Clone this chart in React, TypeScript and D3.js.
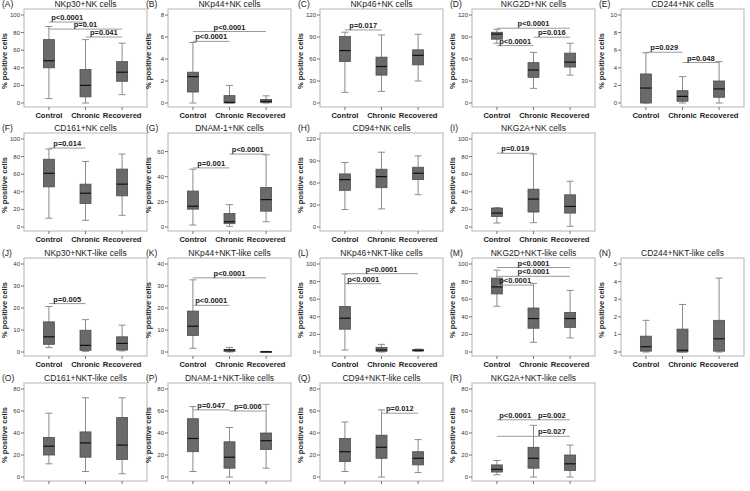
import React from 'react';
import * as d3 from 'd3';

const groups = ['Control', 'Chronic', 'Recovered'];

// box stats per group: [whisker low, q1, median, q3, whisker high]
const nkp30NK = [[5, 40, 48, 72, 87], [0, 7, 20, 38, 72], [9.5, 24.7, 35, 47, 68]];
const nkp44NK = [[0, 1.0, 2.4, 2.8, 5.5], [0, 0, 0.06, 0.67, 1.6], [0, 0.03, 0.15, 0.33, 0.65]];
const nkp46NK = [[14.5, 56.6, 71.5, 90.6, 96.5], [15.8, 38, 49.8, 62.5, 92.8], [30, 52, 65, 72.5, 93.7]];
const nkg2dNK = [[81.5, 87, 94, 96.5, 100.5], [20, 35, 45, 55, 69], [38, 49, 55.7, 68, 81.5]];
const cd244NK = [[0, 0, 1.7, 3.3, 5.7], [0, 0.2, 0.75, 1.4, 3.0], [0, 0.65, 1.6, 2.5, 4.7]];
const cd161NK = [[10, 45.6, 61, 77, 88.6], [7.6, 26.6, 38.4, 48.7, 74.5], [13.3, 35.4, 48.7, 65.8, 82.9]];
const dnam1NK = [[1.6, 14.2, 16.5, 28.6, 46], [0.5, 2.6, 4.2, 10.7, 17.8], [4.2, 12.6, 21.8, 31.5, 57.4]];
const cd94NK = [[23.8, 50, 64.6, 72.4, 88], [24.7, 53.6, 68.7, 78.8, 102], [44, 64.6, 73.3, 81.5, 97]];
const nkg2aNK = [[4.5, 12, 15.8, 21.5, 21.9], [4.9, 17, 31.7, 43, 83], [0.8, 15.8, 23.4, 36.6, 52]];
const nkp30NKT = [[2, 3.5, 6.9, 13.7, 20.7], [0.3, 0.75, 3, 9.9, 14.7], [0.5, 0.9, 3.9, 6.9, 12.2]];
const nkp44NKT = [[1.7, 7.5, 11.7, 18.6, 32.8], [0, 0.3, 0.9, 1.2, 2.1], [0, 0.05, 0.1, 0.2, 0.3]];
const nkp46NKT = [[2.3, 25.9, 38.4, 51.7, 88.6], [0, 0.8, 2.3, 5.3, 8.7], [0.8, 1.1, 1.9, 2.7, 3.4]];
const nkg2dNKT = [[52, 66, 74, 84, 93], [11, 27, 38, 50, 78], [16, 28, 38, 45, 70]];
const cd244NKT = [[0, 0.05, 0.3, 0.9, 1.8], [0, 0, 0.1, 1.3, 2.7], [0, 0.05, 0.75, 1.8, 4.2]];
const cd161NKT = [[12, 20, 28, 36, 58], [5, 18, 31, 41, 72], [3, 16, 29, 54, 72]];
const dnam1NKT = [[5, 23, 35, 53, 64], [0, 8, 18, 32, 45], [8, 25, 33, 40, 66]];
const cd94NKT = [[5, 14, 23, 35, 50], [0, 17, 27, 38, 61], [4, 11, 17, 23, 34]];
const nkg2aNKT = [[2, 4.5, 7, 11, 15], [0, 8, 17, 27, 47], [0, 6, 12, 20, 29]];

// significance bars: [from, to, level, label, text centre from, text centre to]
const sigA = [['Control', 'Chronic', 92, 'p<0.0001'], ['Control', 'Recovered', 84, 'p=0.01'], ['Chronic', 'Recovered', 75, 'p=0.041']];
const sigB = [['Control', 'Recovered', 6.5, 'p<0.0001'], ['Control', 'Chronic', 5.6, 'p<0.0001']];
const sigC = [['Control', 'Chronic', 99.6, 'p=0.017']];
const sigD = [['Control', 'Recovered', 102, 'p<0.0001'], ['Chronic', 'Recovered', 89.7, 'p=0.016'], ['Control', 'Chronic', 78.3, 'p<0.0001']];
const sigE = [['Control', 'Chronic', 5.77, 'p=0.029'], ['Chronic', 'Recovered', 4.6, 'p=0.048']];
const sigF = [['Control', 'Chronic', 89.7, 'p=0.014']];
const sigG = [['Control', 'Chronic', 47, 'p=0.001'], ['Chronic', 'Recovered', 58, 'p<0.0001']];
const sigI = [['Control', 'Chronic', 83.8, 'p=0.019']];
const sigJ = [['Control', 'Chronic', 22, 'p=0.005']];
const sigK = [['Control', 'Recovered', 33.7, 'p<0.0001'], ['Control', 'Chronic', 21.2, 'p<0.0001']];
const sigL = [['Control', 'Recovered', 89, 'p<0.0001'], ['Control', 'Chronic', 77.6, 'p<0.0001']];
const sigM = [['Control', 'Recovered', 96, 'p<0.0001'], ['Control', 'Recovered', 86, 'p<0.0001'], ['Control', 'Chronic', 76, 'p<0.0001']];
const sigP = [['Control', 'Chronic', 61, 'p=0.047'], ['Chronic', 'Recovered', 60, 'p=0.006']];
const sigQ = [['Chronic', 'Recovered', 58, 'p=0.012']];
const sigR = [['Control', 'Chronic', 52, 'p<0.0001'], ['Chronic', 'Recovered', 52, 'p=0.002'], ['Control', 'Recovered', 37, 'p=0.027', 'Chronic', 'Recovered']];

const ticks100 = [0, 20, 40, 60, 80, 100];
const ticks120 = [0, 30, 60, 90, 120];
const ticks80 = [0, 20, 40, 60, 80];
const ticks70 = [0, 20, 40, 60];
const ticks40 = [0, 10, 20, 30, 40];
const ticks10 = [0, 2, 4, 6, 8, 10];
const ticks8 = [0, 2, 4, 6, 8];
const ticks5 = [0, 1, 2, 3, 4, 5];

const panels = [
  { id: 'A', title: 'NKp30+NK cells', row: 0, col: 0, max: 100, ticks: ticks100, stats: nkp30NK, sig: sigA },
  { id: 'B', title: 'NKp44+NK cells', row: 0, col: 1, max: 8, ticks: ticks8, stats: nkp44NK, sig: sigB },
  { id: 'C', title: 'NKp46+NK cells', row: 0, col: 2, max: 120, ticks: ticks120, stats: nkp46NK, sig: sigC },
  { id: 'D', title: 'NKG2D+NK cells', row: 0, col: 3, max: 120, ticks: ticks120, stats: nkg2dNK, sig: sigD },
  { id: 'E', title: 'CD244+NK cells', row: 0, col: 4, max: 10, ticks: ticks10, stats: cd244NK, sig: sigE },
  { id: 'F', title: 'CD161+NK cells', row: 1, col: 0, max: 100, ticks: ticks100, stats: cd161NK, sig: sigF },
  { id: 'G', title: 'DNAM-1+NK cells', row: 1, col: 1, max: 70, ticks: ticks70, stats: dnam1NK, sig: sigG },
  { id: 'H', title: 'CD94+NK cells', row: 1, col: 2, max: 120, ticks: ticks120, stats: cd94NK, sig: [] },
  { id: 'I', title: 'NKG2A+NK cells', row: 1, col: 3, max: 100, ticks: ticks100, stats: nkg2aNK, sig: sigI },
  { id: 'J', title: 'NKp30+NKT-like cells', row: 2, col: 0, max: 40, ticks: ticks40, stats: nkp30NKT, sig: sigJ },
  { id: 'K', title: 'NKp44+NKT-like cells', row: 2, col: 1, max: 40, ticks: ticks40, stats: nkp44NKT, sig: sigK },
  { id: 'L', title: 'NKp46+NKT-like cells', row: 2, col: 2, max: 100, ticks: ticks100, stats: nkp46NKT, sig: sigL },
  { id: 'M', title: 'NKG2D+NKT-like cells', row: 2, col: 3, max: 100, ticks: ticks100, stats: nkg2dNKT, sig: sigM },
  { id: 'N', title: 'CD244+NKT-like cells', row: 2, col: 4, max: 5, ticks: ticks5, stats: cd244NKT, sig: [] },
  { id: 'O', title: 'CD161+NKT-like cells', row: 3, col: 0, max: 80, ticks: ticks80, stats: cd161NKT, sig: [] },
  { id: 'P', title: 'DNAM-1+NKT-like cells', row: 3, col: 1, max: 80, ticks: ticks80, stats: dnam1NKT, sig: sigP },
  { id: 'Q', title: 'CD94+NKT-like cells', row: 3, col: 2, max: 80, ticks: ticks80, stats: cd94NKT, sig: sigQ },
  { id: 'R', title: 'NKG2A+NKT-like cells', row: 3, col: 3, max: 80, ticks: ticks80, stats: nkg2aNKT, sig: sigR },
];

const colLeft = [24, 168, 320, 472, 621];
const rowTop = [9, 133, 258, 383];
const frameW = 123;
const frameH = 98;
const font = 'Liberation Sans, Arial, sans-serif';

const Panel = ({ p }: { p: any }) => {
  const left = colLeft[p.col];
  const top = rowTop[p.row];
  const bottom = top + frameH;
  const x = d3.scalePoint().domain(groups).range([left, left + frameW]).padding(0.68);
  const y = d3.scaleLinear().domain([0, p.max]).range([top + 94, top + 6]);
  const bw = 11;
  const cap = 3.5;

  return (
    <g fontFamily={font}>
      <text x={left - 22} y={top - 2} fontSize={8.5} fill="#222">({p.id})</text>
      <text x={left + frameW / 2} y={top - 2} fontSize={8.5} textAnchor="middle" fill="#222">{p.title}</text>
      <rect x={left} y={top} width={frameW} height={frameH} fill="none" stroke="#b4b4b4" strokeWidth={1} />
      {p.ticks.map((t: number) => (
        <g key={t}>
          <line x1={left - 3} x2={left} y1={y(t)} y2={y(t)} stroke="#777" />
          <text x={left - 4} y={y(t) + 2} fontSize={6} textAnchor="end" fill="#333">{t}</text>
        </g>
      ))}
      <text
        transform={`translate(${left - 17},${top + 52}) rotate(-90)`}
        fontSize={7.5}
        fontWeight="bold"
        textAnchor="middle"
        fill="#222"
      >% positive cells</text>
      {groups.map((g) => (
        <g key={g}>
          <line x1={x(g)} x2={x(g)} y1={bottom} y2={bottom + 3} stroke="#777" />
          {p.row < 3 && (
            <text x={x(g)} y={bottom + 11} fontSize={7.6} fontWeight="bold" textAnchor="middle" fill="#222">{g}</text>
          )}
        </g>
      ))}
      {p.stats.map((s: number[], i: number) => {
        const cx = x(groups[i]) as number;
        const [lo, q1, med, q3, hi] = s;
        return (
          <g key={i}>
            <line x1={cx} x2={cx} y1={y(hi)} y2={y(q3)} stroke="#8c8c8c" />
            <line x1={cx} x2={cx} y1={y(q1)} y2={y(lo)} stroke="#8c8c8c" />
            <line x1={cx - cap} x2={cx + cap} y1={y(hi)} y2={y(hi)} stroke="#8c8c8c" />
            <line x1={cx - cap} x2={cx + cap} y1={y(lo)} y2={y(lo)} stroke="#8c8c8c" />
            <rect x={cx - bw / 2} y={y(q3)} width={bw} height={Math.max(0.8, y(q1) - y(q3))} fill="#6a6a6a" stroke="#4e4e4e" strokeWidth={0.8} />
            <line x1={cx - bw / 2} x2={cx + bw / 2} y1={y(med)} y2={y(med)} stroke="#111" strokeWidth={1.2} />
          </g>
        );
      })}
      {p.sig.map((s: any[], i: number) => {
        const x1 = x(s[0]) as number;
        const x2 = x(s[1]) as number;
        const tx = s[4] ? ((x(s[4]) as number) + (x(s[5]) as number)) / 2 : (x1 + x2) / 2;
        return (
          <g key={i}>
            <line x1={x1} x2={x2} y1={y(s[2])} y2={y(s[2])} stroke="#9a9a9a" />
            <text x={tx} y={y(s[2]) - 2} fontSize={7.5} fontWeight="bold" textAnchor="middle" fill="#222">{s[3]}</text>
          </g>
        );
      })}
    </g>
  );
};

export default function App() {
  return (
    <svg width={750} height={491} style={{ position: 'absolute', left: 0, top: 0, background: '#fff' }}>
      <rect width={750} height={491} fill="#fff" />
      {panels.map((p) => <Panel key={p.id} p={p} />)}
    </svg>
  );
}
